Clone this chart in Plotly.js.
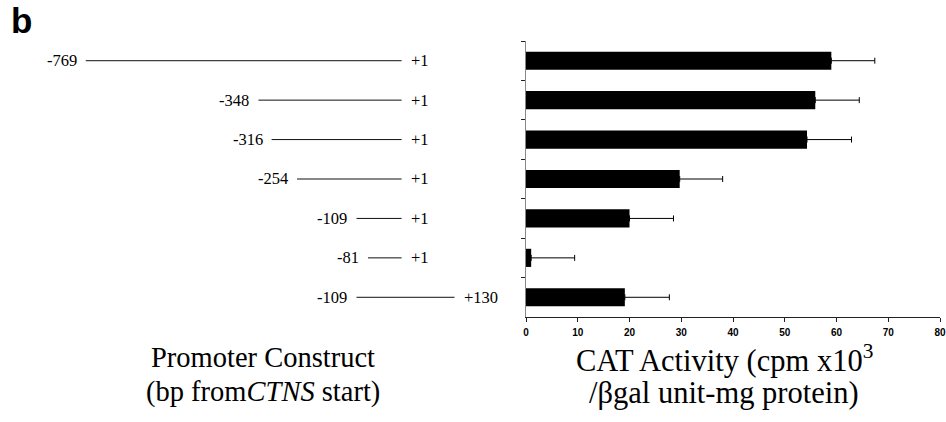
<!DOCTYPE html>
<html><head><meta charset="utf-8">
<script src="https://cdn.plot.ly/plotly-3.0.1.min.js"></script>
<style>html,body{margin:0;padding:0;background:#fff}#chart{width:946px;height:422px}</style>
</head><body><div id="chart"></div>
<script>
const constructs = ["-769/+1","-348/+1","-316/+1","-254/+1","-109/+1","-81/+1","-109/+130"];
const startBp = [-769,-348,-316,-254,-109,-81,-109];
const endBp = [1,1,1,1,1,1,130];
const startLabels = ["-769","-348","-316","-254","-109","-81","-109"];
const endLabels = ["+1","+1","+1","+1","+1","+1","+130"];
const catActivity = [59.0, 55.9, 54.3, 29.7, 20.0, 1.0, 19.1];
const catError = [8.4, 8.5, 8.6, 8.3, 8.5, 8.4, 8.6];
const xTicks = [0,10,20,30,40,50,60,70,80];

const serif = "Liberation Serif, Times New Roman, serif";
const traces = [];
constructs.forEach((c,i)=>{
  traces.push({type:'scatter',mode:'lines',x:[startBp[i],endBp[i]],y:[c,c],
    xaxis:'x2',yaxis:'y',line:{color:'#111',width:1},hoverinfo:'skip',showlegend:false});
});
traces.push({type:'bar',orientation:'h',x:catActivity,y:constructs,xaxis:'x',yaxis:'y',
  marker:{color:'#000',line:{color:'#000',width:0}},width:0.46,showlegend:false,
  error_x:{type:'data',symmetric:false,array:catError,arrayminus:catError.map(()=>0),
    color:'#000',thickness:1,width:3}});

const annotations = [];
constructs.forEach((c,i)=>{
  annotations.push({xref:'x2',yref:'y',x:startBp[i],y:c,text:startLabels[i],showarrow:false,
    xanchor:'right',xshift:-7,font:{family:serif,size:16.5,color:'#000'}});
  annotations.push({xref:'x2',yref:'y',x:endBp[i],y:c,text:endLabels[i],showarrow:false,
    xanchor:'left',xshift:7,font:{family:serif,size:16.5,color:'#000'}});
});
annotations.push({xref:'paper',yref:'paper',x:9/946,y:1,xanchor:'left',yanchor:'top',yshift:1,text:'<b>b</b>',
  showarrow:false,font:{family:'Liberation Sans, Arial, sans-serif',size:35,color:'#000'}});
annotations.push({xref:'paper',yref:'paper',x:263/946,y:1-357/422,xanchor:'center',yanchor:'middle',
  text:'Promoter Construct',showarrow:false,font:{family:serif,size:28.5,color:'#000'}});
annotations.push({xref:'paper',yref:'paper',x:263/946,y:1-392/422,xanchor:'center',yanchor:'middle',
  text:'(bp from<i>CTNS</i> start)',showarrow:false,font:{family:serif,size:28.5,color:'#000'}});
annotations.push({xref:'paper',yref:'paper',x:724/946,y:1-358/422,xanchor:'center',yanchor:'middle',
  text:'CAT Activity (cpm x10<sup>3</sup>',showarrow:false,font:{family:serif,size:30.5,color:'#000'}});
annotations.push({xref:'paper',yref:'paper',x:724/946,y:1-393/422,xanchor:'center',yanchor:'middle',
  text:'/βgal unit-mg protein)',showarrow:false,font:{family:serif,size:30.5,color:'#000'}});

const layout = {
  width:946,height:422,margin:{l:0,r:0,t:0,b:0},paper_bgcolor:'#fff',plot_bgcolor:'rgba(0,0,0,0)',
  xaxis:{domain:[526/946,940/946],range:[0,80],tickvals:xTicks,ticktext:xTicks.map(String),
    showgrid:false,zeroline:false,showline:true,linecolor:'#222',linewidth:1,
    ticks:'outside',ticklen:4,tickcolor:'#222',ticklabelstandoff:2,
    tickfont:{family:'Liberation Sans, Arial, sans-serif',size:10,color:'#000',weight:'bold'},anchor:'y'},
  xaxis2:{domain:[0,473/946],range:[-978,175],visible:false,anchor:'y'},
  yaxis:{domain:[1-317/422,1-41/422],type:'category',categoryorder:'array',categoryarray:constructs,
    autorange:'reversed',showgrid:false,zeroline:false,showline:true,linecolor:'#888',linewidth:1,
    ticks:'outside',tickson:'boundaries',ticklen:4,tickcolor:'#222',showticklabels:false,anchor:'x'},
  annotations:annotations,showlegend:false
};
Plotly.newPlot('chart',traces,layout,{displayModeBar:false,staticPlot:true});
</script></body></html>
